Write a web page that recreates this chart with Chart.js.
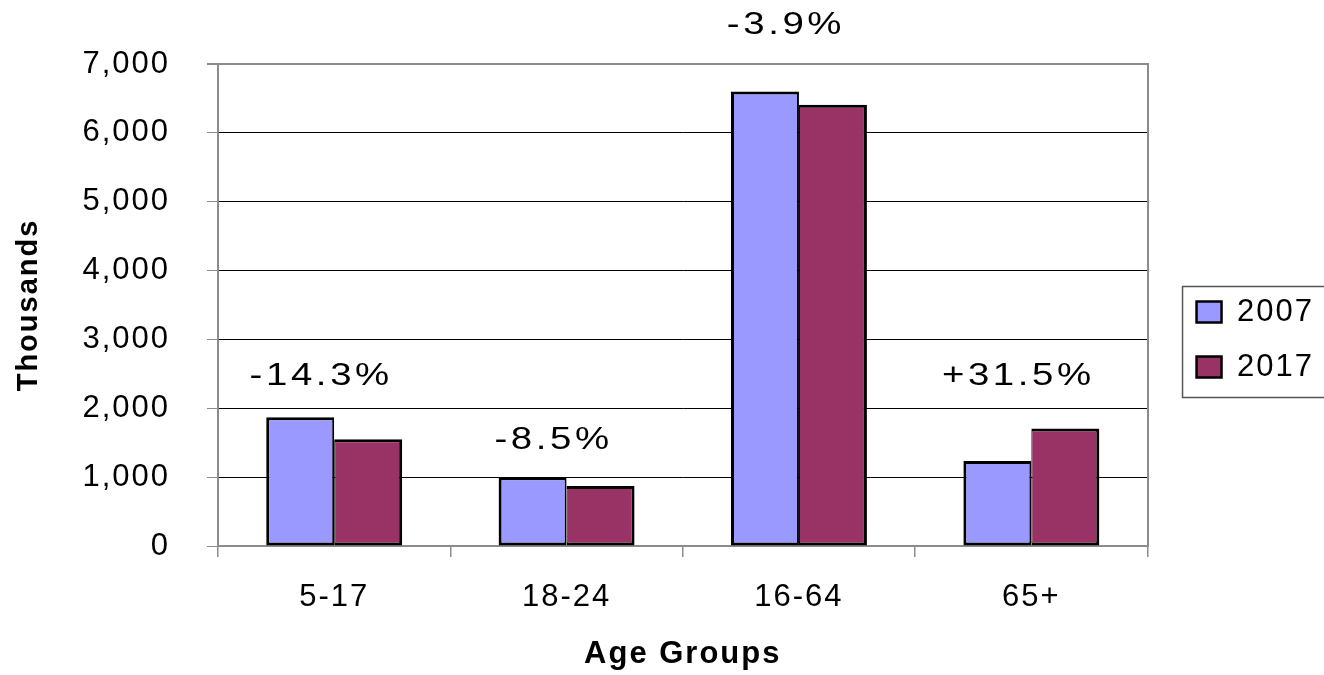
<!DOCTYPE html>
<html>
<head>
<meta charset="utf-8">
<script src="https://cdn.jsdelivr.net/npm/chart.js@4/dist/chart.umd.min.js"></script>
<style>
  html, body { margin: 0; padding: 0; background: #fff; }
  #wrap { width: 1324px; height: 675px; }
</style>
</head>
<body>
<div id="wrap"><canvas id="ageChart"></canvas></div>
<script>
// chart data
const categories = ['5-17', '18-24', '16-64', '65+'];
const seriesNames = ['2007', '2017'];
const values2007 = [1870, 1000, 6600, 1235];
const values2017 = [1550, 870, 6410, 1705];
const yTicks = [0, 1000, 2000, 3000, 4000, 5000, 6000, 7000];
const changeLabels = ['-14.3%', '-8.5%', '-3.9%', '+31.5%'];
// where each change label sits, in axis units
const changeLabelY = [2470, 1530, 7570, 2470];

const FONT = "'Liberation Sans', Arial, sans-serif";
const AXIS_GRAY = '#8c8c8c';

// the reference text is a bit wider than Arial, so open up the letters
const spacingPlugin = {
    id: 'spacing',
    beforeUpdate(chart) { chart.ctx.letterSpacing = '2px'; },
    beforeDraw(chart) { chart.ctx.letterSpacing = '2px'; }
};

// percentage change text over each group (drawn slightly stretched like the original)
const changePlugin = {
    id: 'changeText',
    afterDatasetsDraw(chart) {
        const ctx = chart.ctx;
        const x = chart.scales.x;
        const y = chart.scales.y;
        const stretch = 1.2;
        ctx.save();
        ctx.letterSpacing = '3px';
        ctx.font = '32px ' + FONT;
        ctx.fillStyle = '#000';
        ctx.textAlign = 'center';
        ctx.textBaseline = 'middle';
        changeLabels.forEach((txt, i) => {
            const px = x.getPixelForValue(i) - 13;
            const py = y.getPixelForValue(changeLabelY[i]);
            ctx.save();
            ctx.translate(px, py);
            ctx.scale(stretch, 1);
            ctx.fillText(txt, 0, 0);
            ctx.restore();
        });
        ctx.restore();
    }
};

// frame around the legend
const legendBoxPlugin = {
    id: 'legendBox',
    afterDraw(chart) {
        const boxes = chart.legend && chart.legend.legendHitBoxes;
        if (!boxes || !boxes.length) return;
        const first = boxes[0];
        const last = boxes[boxes.length - 1];
        const ctx = chart.ctx;
        ctx.save();
        ctx.strokeStyle = '#555';
        ctx.lineWidth = 1.5;
        const left = first.left - 14;
        const top = first.top - 10;
        const bottom = last.top + last.height + 15;
        ctx.strokeRect(left, top, chart.width - left + 5, bottom - top);
        ctx.restore();
    }
};

const ctx = document.getElementById('ageChart').getContext('2d');

new Chart(ctx, {
    type: 'bar',
    data: {
        labels: categories,
        datasets: [
            {
                label: seriesNames[0],
                data: values2007,
                backgroundColor: '#9999FF',
                borderColor: '#000',
                borderWidth: { top: 3, left: 3, bottom: 3, right: 2 },
                borderSkipped: false,
                barPercentage: 1,
                categoryPercentage: 0.585
            },
            {
                label: seriesNames[1],
                data: values2017,
                backgroundColor: '#993366',
                borderColor: '#000',
                borderWidth: { top: 3, left: 1, bottom: 3, right: 3 },
                borderSkipped: false,
                barPercentage: 1,
                categoryPercentage: 0.585
            }
        ]
    },
    options: {
        responsive: true,
        maintainAspectRatio: false,
        animation: false,
        layout: { padding: { top: 4, left: 0, right: 0, bottom: 0 } },
        plugins: {
            tooltip: { enabled: false },
            legend: {
                position: 'right',
                labels: {
                    font: { family: FONT, size: 31 },
                    color: '#000',
                    boxWidth: 25,
                    boxHeight: 21,
                    padding: 24,
                    generateLabels(chart) {
                        const items = Chart.defaults.plugins.legend.labels.generateLabels(chart);
                        items.forEach(it => { it.lineWidth = 2.5; it.strokeStyle = '#000'; });
                        return items;
                    }
                }
            }
        },
        scales: {
            x: {
                grid: {
                    offset: true,
                    drawOnChartArea: false,
                    drawTicks: true,
                    tickLength: 11,
                    color: AXIS_GRAY,
                    lineWidth: 1.5
                },
                border: { color: AXIS_GRAY, width: 2 },
                ticks: {
                    font: { family: FONT, size: 31 },
                    color: '#000',
                    padding: 22,
                    maxRotation: 0
                },
                title: {
                    display: true,
                    text: 'Age Groups',
                    font: { family: FONT, size: 31, weight: 'bold' },
                    color: '#000',
                    padding: { top: 0, bottom: 2 }
                },
                afterFit(scale) { scale.height = 129; }
            },
            y: {
                min: 0,
                max: 7000,
                afterBuildTicks(scale) {
                    scale.ticks = yTicks.map(v => ({ value: v }));
                },
                grid: {
                    color: c => (c.tick && c.tick.value === 7000) ? AXIS_GRAY : '#000',
                    lineWidth: c => (c.tick && c.tick.value === 7000) ? 2 : 1,
                    tickColor: AXIS_GRAY,
                    tickLength: 11
                },
                border: { color: AXIS_GRAY, width: 2 },
                ticks: {
                    font: { family: FONT, size: 31 },
                    color: '#000',
                    padding: 37,
                    callback: v => v.toLocaleString('en-US')
                },
                title: {
                    display: true,
                    text: 'Thousands',
                    font: { family: FONT, size: 29, weight: 'bold' },
                    color: '#000',
                    padding: { top: 12, bottom: 0 }
                },
                afterFit(scale) {
                    scale.width = 218;
                    scale.paddingTop = 64;
                }
            },
            yRight: {
                position: 'right',
                min: 0,
                max: 7000,
                grid: { drawOnChartArea: false, drawTicks: false },
                border: { color: AXIS_GRAY, width: 2 },
                ticks: { display: false },
                afterFit(scale) { scale.width = 25; }
            }
        }
    },
    plugins: [spacingPlugin, changePlugin, legendBoxPlugin]
});
</script>
</body>
</html>
